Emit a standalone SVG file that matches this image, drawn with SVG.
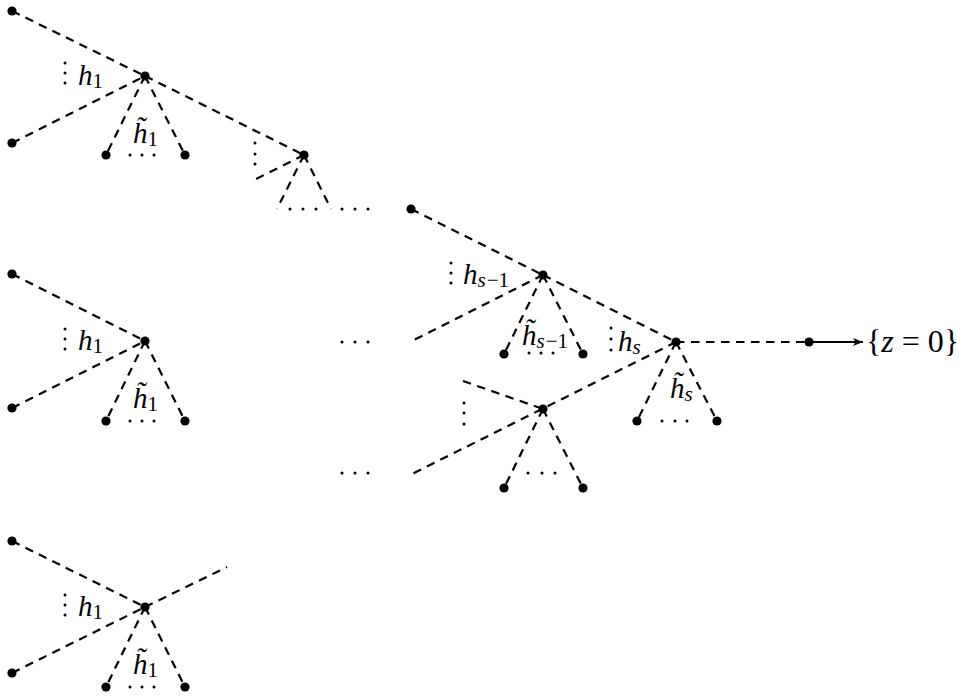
<svg xmlns="http://www.w3.org/2000/svg" width="964" height="698" viewBox="0 0 964 698">
<defs>
<style>
.d{stroke:#000;stroke-width:2.2;stroke-dasharray:8.5 6.5;fill:none}
.a{stroke:#000;stroke-width:2;fill:none}
.n{fill:#000}
.p{fill:#000}
.t{font-style:italic;font-size:29px;fill:#000}
.u{font-style:normal}
.sb{font-size:21px}
.r{font-size:32px;fill:#000}
</style>
<marker id="ah" viewBox="0 0 10 8" refX="10" refY="4" markerWidth="10" markerHeight="8" markerUnits="userSpaceOnUse" orient="auto">
<path d="M0,0 L10,4 L0,8 L2.5,4 Z" fill="#000"/>
</marker>
</defs>
<rect width="964" height="698" fill="#fff"/>
<g id="connectors">
<line class="d" x1="12" y1="11" x2="145" y2="76"/>
<line class="d" x1="12" y1="143" x2="145" y2="76"/>
<line class="d" x1="145" y1="76" x2="106" y2="155"/>
<line class="d" x1="145" y1="76" x2="185" y2="155"/>
<line class="d" x1="145" y1="76" x2="304" y2="155"/>
<line class="d" x1="304" y1="155" x2="252" y2="181"/>
<line class="d" x1="304" y1="155" x2="277" y2="209"/>
<line class="d" x1="304" y1="155" x2="331" y2="209"/>
<line class="d" x1="411" y1="209" x2="543" y2="275"/>
<line class="d" x1="543" y1="275" x2="410" y2="342"/>
<line class="d" x1="543" y1="275" x2="504" y2="354"/>
<line class="d" x1="543" y1="275" x2="583" y2="354"/>
<line class="d" x1="543" y1="275" x2="676" y2="342"/>
<line class="d" x1="676" y1="342" x2="809" y2="342"/>
<line class="d" x1="676" y1="342" x2="637" y2="421"/>
<line class="d" x1="676" y1="342" x2="717" y2="421"/>
<line class="d" x1="676" y1="342" x2="410" y2="475"/>
<line class="d" x1="463" y1="381" x2="543" y2="409"/>
<line class="d" x1="543" y1="409" x2="504" y2="488"/>
<line class="d" x1="543" y1="409" x2="583" y2="488"/>
<line class="a" x1="809" y1="342" x2="863" y2="342" marker-end="url(#ah)"/>
<line class="d" x1="12" y1="274" x2="145" y2="341"/>
<line class="d" x1="12" y1="408" x2="145" y2="341"/>
<line class="d" x1="145" y1="341" x2="106" y2="421"/>
<line class="d" x1="145" y1="341" x2="185" y2="421"/>
<line class="d" x1="12" y1="541" x2="145" y2="607"/>
<line class="d" x1="12" y1="673" x2="145" y2="607"/>
<line class="d" x1="145" y1="607" x2="106" y2="687"/>
<line class="d" x1="145" y1="607" x2="185" y2="687"/>
<line class="d" x1="145" y1="607" x2="227" y2="567"/>
</g>
<g font-family="Liberation Serif, DejaVu Serif, serif">
<g id="tree1">
<circle class="n" cx="12" cy="11" r="4.6"/>
<circle class="n" cx="12" cy="143" r="4.6"/>
<circle class="n" cx="145" cy="76" r="4.6"/>
<circle class="n" cx="106" cy="155" r="4.6"/>
<circle class="n" cx="185" cy="155" r="4.6"/>
<circle class="p" cx="65" cy="63" r="1.5"/><circle class="p" cx="65" cy="73" r="1.5"/><circle class="p" cx="65" cy="83" r="1.5"/>
<text class="t" x="78" y="85">h<tspan class="u sb" dy="3">1</tspan></text>
<text class="t" x="133" y="143">h&#x303;<tspan class="u sb" dy="3">1</tspan></text>
<circle class="p" cx="130" cy="155" r="1.5"/><circle class="p" cx="142" cy="155" r="1.5"/><circle class="p" cx="154" cy="155" r="1.5"/>
</g>
<g id="nodeB">
<circle class="n" cx="304" cy="155" r="4.6"/>
<circle class="p" cx="255" cy="143" r="1.5"/><circle class="p" cx="255" cy="154" r="1.5"/><circle class="p" cx="255" cy="164" r="1.5"/>
<circle class="p" cx="290" cy="209" r="1.5"/><circle class="p" cx="303" cy="209" r="1.5"/><circle class="p" cx="316" cy="209" r="1.5"/>
<circle class="p" cx="342" cy="209" r="1.5"/><circle class="p" cx="355" cy="209" r="1.5"/><circle class="p" cx="368" cy="209" r="1.5"/>
</g>
<g id="nodeF">
<circle class="n" cx="411" cy="209" r="4.6"/>
</g>
<g id="nodeC">
<circle class="n" cx="543" cy="275" r="4.6"/>
<circle class="n" cx="504" cy="354" r="4.6"/>
<circle class="n" cx="583" cy="354" r="4.6"/>
<circle class="p" cx="451" cy="263" r="1.5"/><circle class="p" cx="451" cy="273" r="1.5"/><circle class="p" cx="451" cy="283" r="1.5"/>
<text class="t" x="463" y="284">h<tspan class="sb" dy="3">s</tspan><tspan class="u sb" dx="1">−1</tspan></text>
<text class="t" x="522" y="345">h&#x303;<tspan class="sb" dy="3">s</tspan><tspan class="u sb" dx="1">−1</tspan></text>
<circle class="p" cx="529" cy="353" r="1.5"/><circle class="p" cx="541" cy="353" r="1.5"/><circle class="p" cx="553" cy="353" r="1.5"/>
<circle class="p" cx="342" cy="342" r="1.5"/><circle class="p" cx="355" cy="342" r="1.5"/><circle class="p" cx="368" cy="342" r="1.5"/>
</g>
<g id="nodeD">
<circle class="n" cx="676" cy="342" r="4.6"/>
<circle class="n" cx="637" cy="421" r="4.6"/>
<circle class="n" cx="717" cy="421" r="4.6"/>
<circle class="p" cx="611" cy="328" r="1.5"/><circle class="p" cx="611" cy="339" r="1.5"/><circle class="p" cx="611" cy="350" r="1.5"/>
<text class="t" x="618" y="351">h<tspan class="sb" dy="3">s</tspan></text>
<text class="t" x="670" y="398">h&#x303;<tspan class="sb" dy="3">s</tspan></text>
<circle class="p" cx="662" cy="421" r="1.5"/><circle class="p" cx="675" cy="421" r="1.5"/><circle class="p" cx="687" cy="421" r="1.5"/>
</g>
<g id="nodeE">
<circle class="n" cx="543" cy="409" r="4.6"/>
<circle class="n" cx="504" cy="488" r="4.6"/>
<circle class="n" cx="583" cy="488" r="4.6"/>
<circle class="p" cx="464" cy="403" r="1.5"/><circle class="p" cx="464" cy="413" r="1.5"/><circle class="p" cx="464" cy="424" r="1.5"/>
<circle class="p" cx="528" cy="473" r="1.5"/><circle class="p" cx="542" cy="473" r="1.5"/><circle class="p" cx="555" cy="473" r="1.5"/>
<circle class="p" cx="342" cy="473" r="1.5"/><circle class="p" cx="355" cy="473" r="1.5"/><circle class="p" cx="368" cy="473" r="1.5"/>
</g>
<g id="target">
<circle class="n" cx="809" cy="342" r="4.6"/>
<text class="r" x="866" y="352">{<tspan font-style="italic">z</tspan> = 0}</text>
</g>
<g id="tree2">
<circle class="n" cx="12" cy="274" r="4.6"/>
<circle class="n" cx="12" cy="408" r="4.6"/>
<circle class="n" cx="145" cy="341" r="4.6"/>
<circle class="n" cx="106" cy="421" r="4.6"/>
<circle class="n" cx="185" cy="421" r="4.6"/>
<circle class="p" cx="65" cy="329" r="1.5"/><circle class="p" cx="65" cy="339" r="1.5"/><circle class="p" cx="65" cy="349" r="1.5"/>
<text class="t" x="78" y="350">h<tspan class="u sb" dy="3">1</tspan></text>
<text class="t" x="133" y="408">h&#x303;<tspan class="u sb" dy="3">1</tspan></text>
<circle class="p" cx="130" cy="421" r="1.5"/><circle class="p" cx="142" cy="421" r="1.5"/><circle class="p" cx="154" cy="421" r="1.5"/>
</g>
<g id="tree3">
<circle class="n" cx="12" cy="541" r="4.6"/>
<circle class="n" cx="12" cy="673" r="4.6"/>
<circle class="n" cx="145" cy="607" r="4.6"/>
<circle class="n" cx="106" cy="687" r="4.6"/>
<circle class="n" cx="185" cy="687" r="4.6"/>
<circle class="p" cx="65" cy="595" r="1.5"/><circle class="p" cx="65" cy="605" r="1.5"/><circle class="p" cx="65" cy="615" r="1.5"/>
<text class="t" x="78" y="616">h<tspan class="u sb" dy="3">1</tspan></text>
<text class="t" x="133" y="674">h&#x303;<tspan class="u sb" dy="3">1</tspan></text>
<circle class="p" cx="130" cy="687" r="1.5"/><circle class="p" cx="142" cy="687" r="1.5"/><circle class="p" cx="154" cy="687" r="1.5"/>
</g>
</g>
</svg>
